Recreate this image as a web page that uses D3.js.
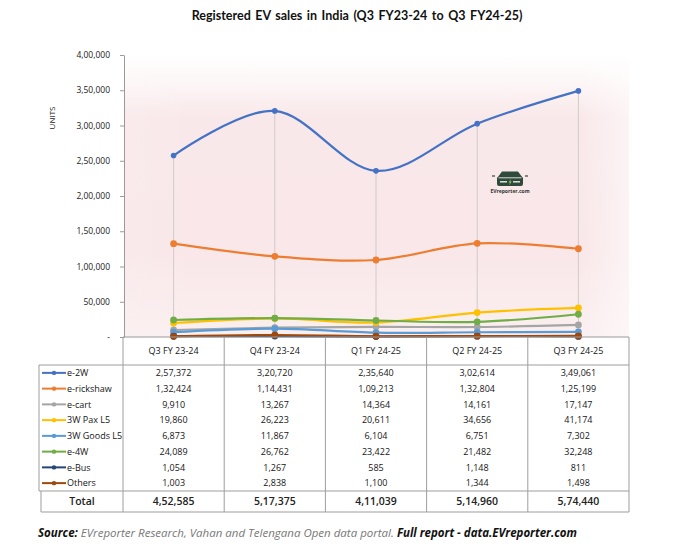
<!DOCTYPE html>
<html>
<head>
<meta charset="utf-8">
<script src="https://cdn.jsdelivr.net/npm/d3@7"></script>
<style>
  body { margin: 0; background: #fff; }
  svg { display: block; }
  text { font-family: "Open Sans", "Noto Sans", sans-serif; }
</style>
</head>
<body>
<div id="chart"></div>
<script>
// ---- data ----
var quarters = ["Q3 FY 23-24", "Q4 FY 23-24", "Q1 FY 24-25", "Q2 FY 24-25", "Q3 FY 24-25"];
var seriesNames = ["e-2W", "e-rickshaw", "e-cart", "3W Pax L5", "3W Goods L5", "e-4W", "e-Bus", "Others"];

var e2W = [257372, 320720, 235640, 302614, 349061];
var eRickshaw = [132424, 114431, 109213, 132804, 125199];
var eCart = [9910, 13267, 14364, 14161, 17147];
var pax3W = [19860, 26223, 20611, 34656, 41174];
var goods3W = [6873, 11867, 6104, 6751, 7302];
var e4W = [24089, 26762, 23422, 21482, 32248];
var eBus = [1054, 1267, 585, 1148, 811];
var others = [1003, 2838, 1100, 1344, 1498];
var totals = [452585, 517375, 411039, 514960, 574440];

var yTicks = [0, 50000, 100000, 150000, 200000, 250000, 300000, 350000, 400000];

// excel-ish palette, one per series
var seriesColors = ["#4472c4", "#ed7d31", "#a5a5a5", "#ffc000", "#5b9bd5", "#70ad47", "#264478", "#9e480e"];

var seriesValues = [e2W, eRickshaw, eCart, pax3W, goods3W, e4W, eBus, others];
var series = seriesNames.map(function(n, i) {
  return { name: n, color: seriesColors[i], values: seriesValues[i] };
});

// indian grouping: 4,52,585
function fmtIN(n) {
  var s = String(Math.round(n));
  if (s.length <= 3) return s;
  var last3 = s.slice(-3), rest = s.slice(0, -3);
  rest = rest.replace(/\B(?=(\d{2})+(?!\d))/g, ",");
  return rest + "," + last3;
}

var width = 680, height = 556;

var svg = d3.select("#chart").append("svg")
  .attr("width", width)
  .attr("height", height);

var plot = { left: 124, right: 629, top: 55, bottom: 337 };

var x = d3.scaleBand().domain(quarters).range([123, 629]);
var y = d3.scaleLinear().domain([0, 400000]).range([plot.bottom, plot.top]);
var cx = function(q) { return x(q) + x.bandwidth() / 2; };

// background gradient
var defs = svg.append("defs");
var grad = defs.append("linearGradient").attr("id", "bg")
  .attr("x1", 0).attr("y1", 0).attr("x2", 0).attr("y2", 1);
grad.append("stop").attr("offset", "0%").attr("stop-color", "#ffffff");
grad.append("stop").attr("offset", "9%").attr("stop-color", "#fdf7f7");
grad.append("stop").attr("offset", "22%").attr("stop-color", "#f9e8ea");
grad.append("stop").attr("offset", "70%").attr("stop-color", "#f9e7e9");
grad.append("stop").attr("offset", "100%").attr("stop-color", "#fbeff0");

var side = defs.append("linearGradient").attr("id", "side")
  .attr("x1", 0).attr("y1", 0).attr("x2", 1).attr("y2", 0);
side.append("stop").attr("offset", "0%").attr("stop-color", "#fff").attr("stop-opacity", 0.1);
side.append("stop").attr("offset", "15%").attr("stop-color", "#fff").attr("stop-opacity", 0);
side.append("stop").attr("offset", "90%").attr("stop-color", "#fff").attr("stop-opacity", 0);
side.append("stop").attr("offset", "100%").attr("stop-color", "#fff").attr("stop-opacity", 0.5);

svg.append("rect")
  .attr("x", plot.left).attr("y", plot.top)
  .attr("width", plot.right - plot.left).attr("height", plot.bottom - plot.top)
  .attr("fill", "url(#bg)");
svg.append("rect")
  .attr("x", plot.left).attr("y", plot.top)
  .attr("width", plot.right - plot.left).attr("height", plot.bottom - plot.top)
  .attr("fill", "url(#side)");

// title
svg.append("text")
  .attr("x", 357).attr("y", 20)
  .attr("text-anchor", "middle")
  .style("font-family", "Lato, 'Open Sans', sans-serif")
  .style("font-weight", "bold")
  .style("font-size", "12.5px")
  .style("word-spacing", "1.5px")
  .attr("fill", "#111")
  .text("Registered EV sales in India (Q3 FY23-24 to Q3 FY24-25)");

// y axis
var yAxis = d3.axisLeft(y)
  .tickValues(yTicks)
  .tickSize(4)
  .tickSizeOuter(0)
  .tickPadding(10)
  .tickFormat(function(d) { return d === 0 ? "-" : fmtIN(d); });

var yg = svg.append("g")
  .attr("transform", "translate(" + plot.left + ",0)")
  .call(yAxis);
yg.select(".domain").attr("stroke", "#9a9a9a");
yg.selectAll(".tick line").attr("stroke", "#9a9a9a");
yg.selectAll(".tick text")
  .style("font-size", "8.5px")
  .attr("fill", "#1a1a1a");

svg.append("text")
  .attr("transform", "translate(55,118) rotate(-90)")
  .attr("text-anchor", "middle")
  .style("font-size", "8px")
  .attr("fill", "#222")
  .text("UNITS");

// drop lines from the top series to the axis
var tops = quarters.map(function(q, i) {
  return { q: q, v: d3.max(series, function(s) { return s.values[i]; }) };
});
svg.append("g").selectAll("line")
  .data(tops)
  .enter().append("line")
  .attr("x1", function(d) { return cx(d.q); })
  .attr("x2", function(d) { return cx(d.q); })
  .attr("y1", function(d) { return y(d.v); })
  .attr("y2", y(0))
  .attr("stroke", "#d2caca")
  .attr("stroke-width", 1);

// lines
var line = d3.line()
  .x(function(d, i) { return cx(quarters[i]); })
  .y(function(d) { return y(d); })
  .curve(d3.curveCardinal.tension(0));

var lines = svg.append("g").selectAll("g")
  .data(series)
  .enter().append("g");

lines.append("path")
  .attr("d", function(s) { return line(s.values); })
  .attr("fill", "none")
  .attr("stroke", function(s) { return s.color; })
  .attr("stroke-width", 2.2)
  .attr("stroke-linecap", "round");

lines.selectAll("circle")
  .data(function(s) { return s.values.map(function(v, i) { return { v: v, i: i, c: s.color, n: s.name }; }); })
  .enter().append("circle")
  .attr("cx", function(d) { return cx(quarters[d.i]); })
  .attr("cy", function(d) { return y(d.v); })
  .attr("r", function(d) { return d.n === "e-2W" ? 2.8 : 3.4; })
  .attr("fill", function(d) { return d.c; });

// x axis line (top of the table)
svg.append("line")
  .attr("x1", 123).attr("x2", 629)
  .attr("y1", y(0)).attr("y2", y(0))
  .attr("stroke", "#9a9a9a");

// ---- data table ----
var tbl = { header: 365, rowH: 15.75, total: 491, bottom: 512, legendLeft: 39, totalLeft: 41 };
var gridColor = "#9d9d9d";
var table = svg.append("g");

// column lines
var colEdges = quarters.map(function(q) { return x(q); }).concat([x.range()[1]]);
table.selectAll(".vcol")
  .data(colEdges)
  .enter().append("line")
  .attr("x1", function(d) { return d; })
  .attr("x2", function(d) { return d; })
  .attr("y1", y(0))
  .attr("y2", tbl.bottom)
  .attr("stroke", gridColor);

// horizontal lines
table.append("line")
  .attr("x1", tbl.legendLeft).attr("x2", 629)
  .attr("y1", tbl.header).attr("y2", tbl.header)
  .attr("stroke", gridColor);
table.append("line")
  .attr("x1", tbl.legendLeft).attr("x2", 629)
  .attr("y1", tbl.total).attr("y2", tbl.total)
  .attr("stroke", gridColor);
table.append("line")
  .attr("x1", tbl.totalLeft).attr("x2", 629)
  .attr("y1", tbl.bottom).attr("y2", tbl.bottom)
  .attr("stroke", gridColor);
table.append("line")
  .attr("x1", tbl.legendLeft).attr("x2", tbl.legendLeft)
  .attr("y1", tbl.header).attr("y2", tbl.total)
  .attr("stroke", gridColor);
table.append("line")
  .attr("x1", tbl.totalLeft).attr("x2", tbl.totalLeft)
  .attr("y1", tbl.total).attr("y2", tbl.bottom)
  .attr("stroke", gridColor);

var cellFont = "9px";

// header row
table.selectAll(".hdr")
  .data(quarters)
  .enter().append("text")
  .attr("x", cx)
  .attr("y", 351)
  .attr("dy", "0.35em")
  .attr("text-anchor", "middle")
  .style("font-size", cellFont)
  .attr("fill", "#151515")
  .text(function(d) { return d; });

// data rows
var rowY = function(i) { return tbl.header + tbl.rowH * (i + 0.5); };
var rows = table.selectAll(".row")
  .data(series)
  .enter().append("g")
  .attr("transform", function(s, i) { return "translate(0," + rowY(i) + ")"; });

rows.append("line")
  .attr("x1", 42).attr("x2", 66)
  .attr("stroke", function(s) { return s.color; })
  .attr("stroke-width", 2);
rows.append("circle")
  .attr("cx", 54).attr("r", 2.2)
  .attr("fill", function(s) { return s.color; });
rows.append("text")
  .attr("x", 67)
  .attr("dy", "0.35em")
  .style("font-size", cellFont)
  .attr("fill", "#151515")
  .text(function(s) { return s.name; });

rows.selectAll(".val")
  .data(function(s) { return s.values; })
  .enter().append("text")
  .attr("x", function(d, i) { return cx(quarters[i]); })
  .attr("dy", "0.35em")
  .attr("text-anchor", "middle")
  .style("font-size", cellFont)
  .attr("fill", "#151515")
  .text(function(d) { return fmtIN(d); });

// total row
var totalY = (tbl.total + tbl.bottom) / 2;
table.append("text")
  .attr("x", 82).attr("y", totalY)
  .attr("dy", "0.35em")
  .attr("text-anchor", "middle")
  .style("font-size", "10.5px")
  .style("font-weight", "600")
  .attr("fill", "#222")
  .text("Total");
table.selectAll(".tot")
  .data(totals)
  .enter().append("text")
  .attr("x", function(d, i) { return cx(quarters[i]); })
  .attr("y", totalY)
  .attr("dy", "0.35em")
  .attr("text-anchor", "middle")
  .style("font-size", "10.5px")
  .style("font-weight", "600")
  .attr("fill", "#222")
  .text(function(d) { return fmtIN(d); });

// ---- watermark logo ----
var logo = svg.append("g").attr("transform", "translate(510,179)");
var logoGreen = "#2f4a3a";
logo.append("path")
  .attr("d", "M-8,-7.5 L8,-7.5 L12.5,-1.5 L13,-1.5 L13,5 Q13,7 11,7 L-11,7 Q-13,7 -13,5 L-13,-1.5 L-12.5,-1.5 Z")
  .attr("fill", logoGreen);
logo.append("line").attr("x1", -11.5).attr("x2", 11.5).attr("y1", -1.2).attr("y2", -1.2)
  .attr("stroke", "#e9ece6").attr("stroke-width", 0.9);
logo.append("line").attr("x1", -10).attr("x2", -3).attr("y1", 2.8).attr("y2", 2.8)
  .attr("stroke", "#e8eee8").attr("stroke-width", 1.4);
logo.append("line").attr("x1", 3).attr("x2", 10).attr("y1", 2.8).attr("y2", 2.8)
  .attr("stroke", "#e8eee8").attr("stroke-width", 1.4);
logo.append("path")
  .attr("d", "M0.9,0 L-1.4,3.4 L0,3.4 L-0.8,6.2 L1.6,2.6 L0.2,2.6 Z")
  .attr("fill", "#9ccf6f");
logo.append("line").attr("x1", -18).attr("x2", -15).attr("y1", -3).attr("y2", -3)
  .attr("stroke", logoGreen).attr("stroke-width", 1.2);
logo.append("line").attr("x1", 15).attr("x2", 18).attr("y1", -3).attr("y2", -3)
  .attr("stroke", logoGreen).attr("stroke-width", 1.2);
logo.append("text")
  .attr("y", 14)
  .attr("text-anchor", "middle")
  .style("font-size", "5px")
  .style("font-weight", "bold")
  .attr("fill", "#333")
  .text("EVreporter.com");

// ---- source line ----
var src = svg.append("text")
  .attr("x", 38).attr("y", 537)
  .style("font-size", "11.5px")
  .style("font-style", "italic");
src.append("tspan").style("font-weight", "bold").attr("fill", "#111").text("Source:");
src.append("tspan").attr("fill", "#777").text(" EVreporter Research, Vahan and Telengana Open data portal. ");
src.append("tspan").style("font-weight", "bold").attr("fill", "#111").text("Full report - data.EVreporter.com");
</script>
</body>
</html>
